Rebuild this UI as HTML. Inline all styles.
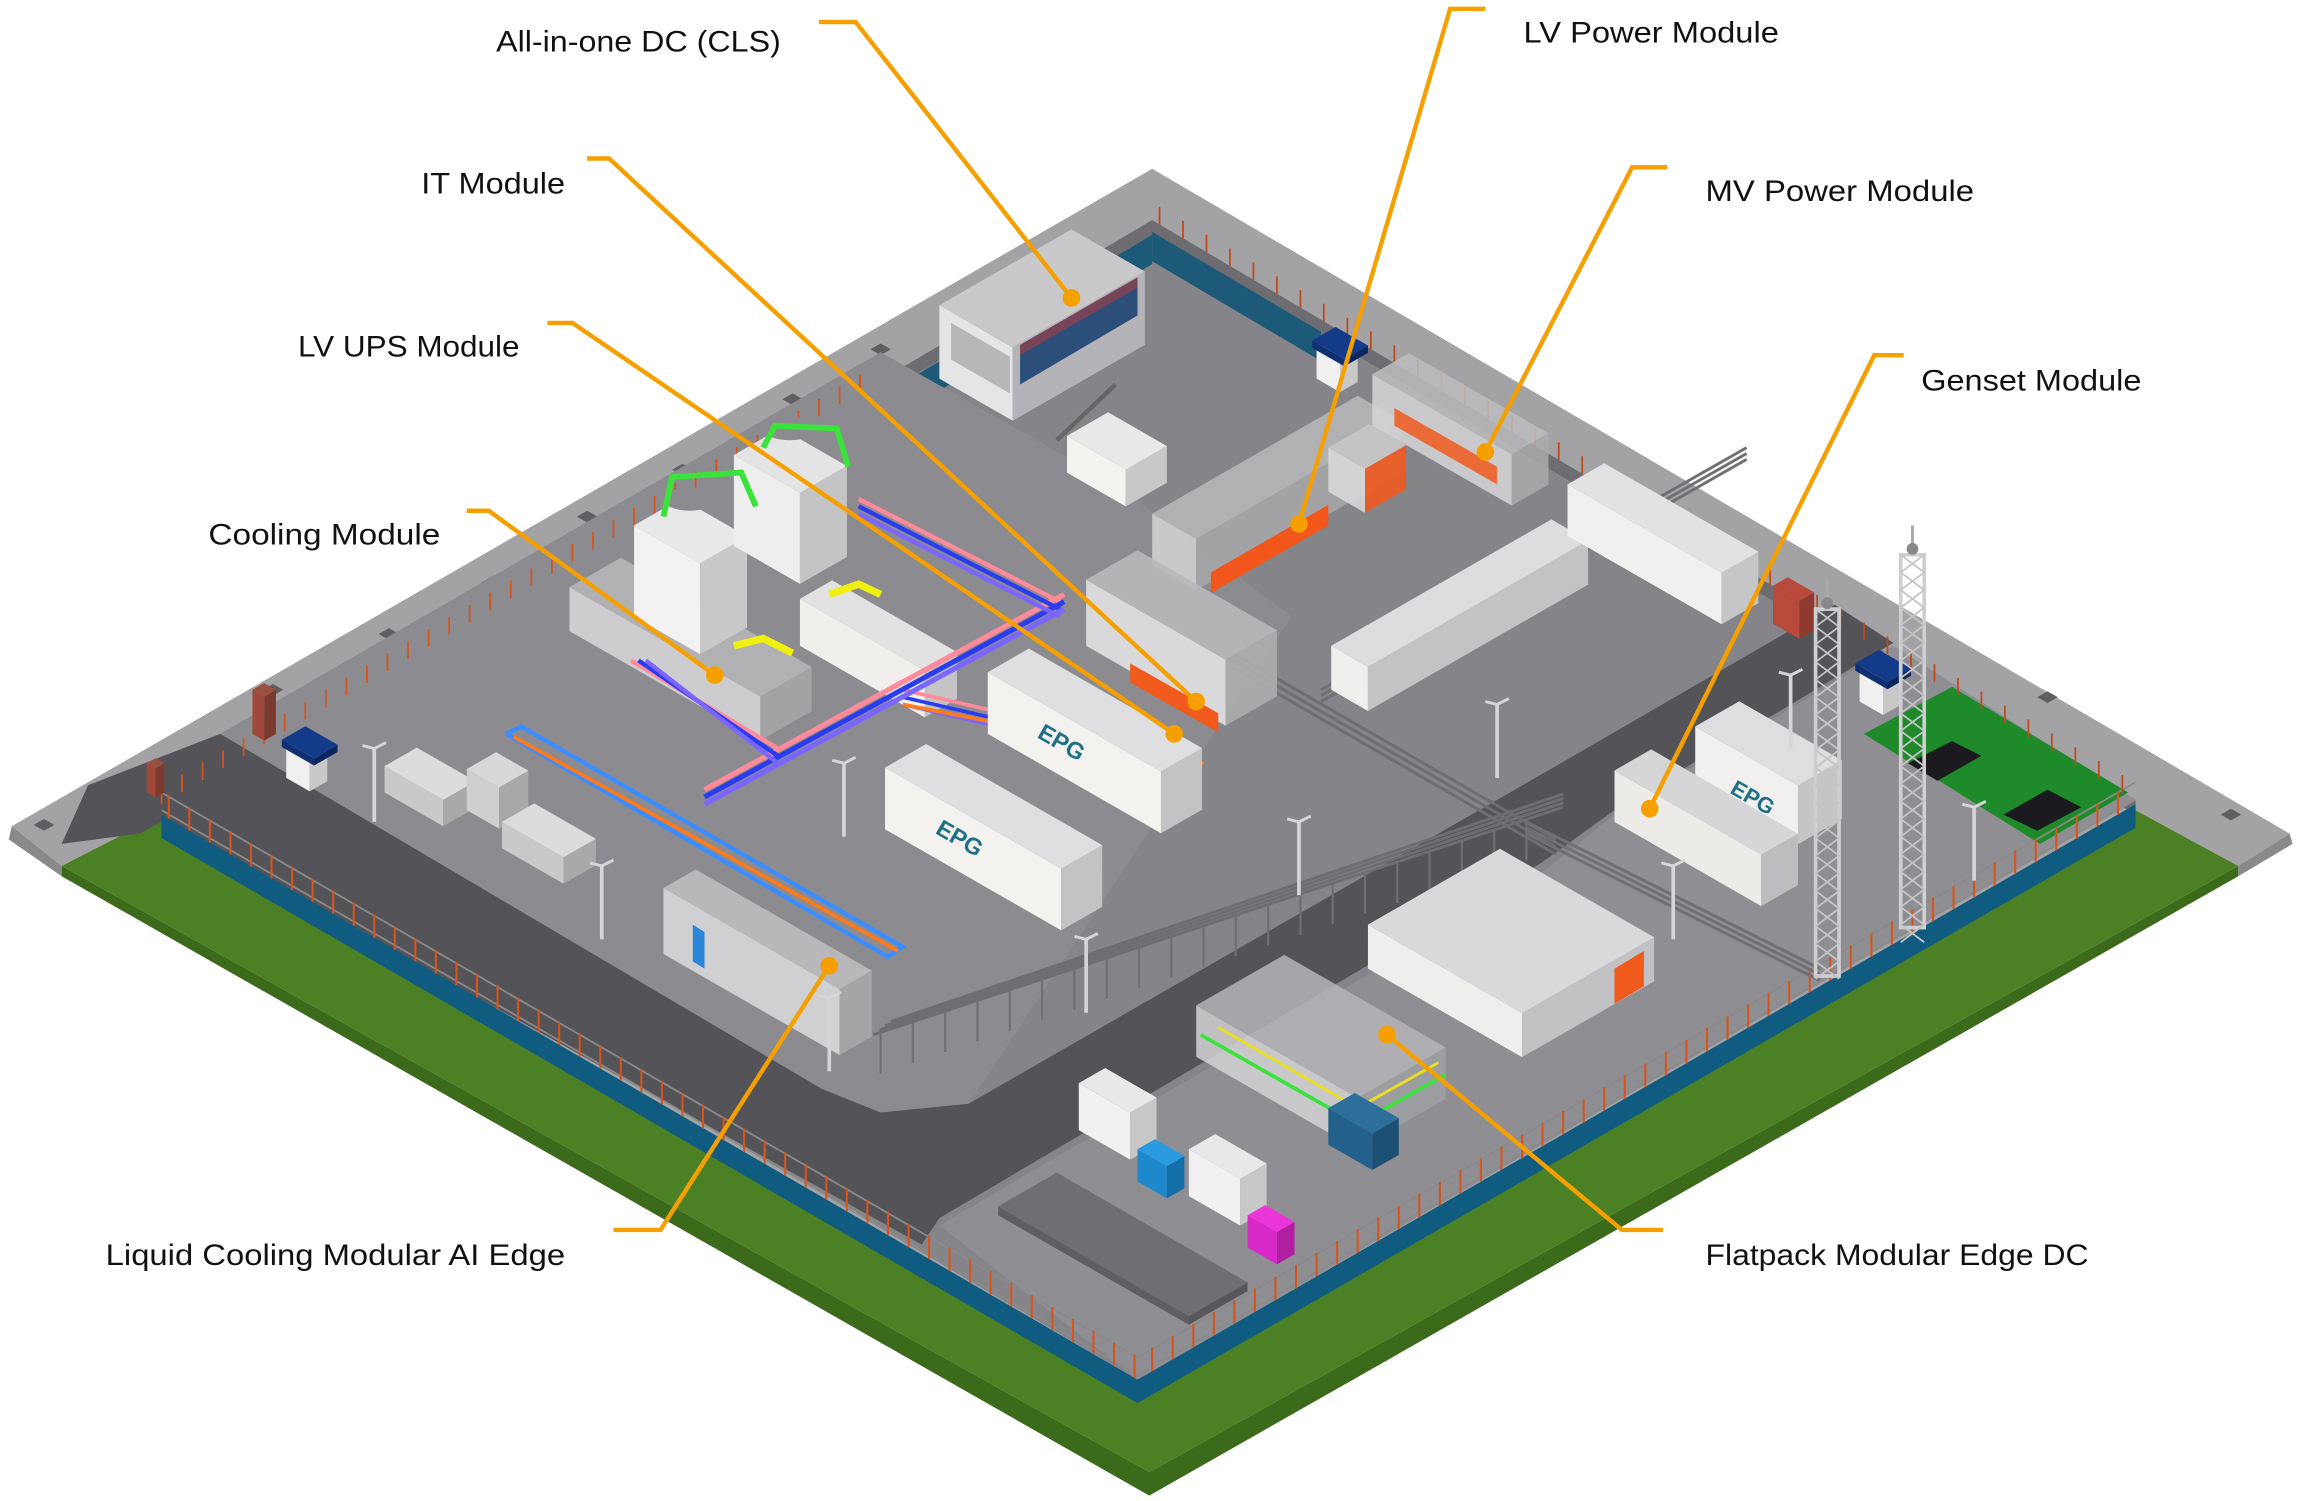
<!DOCTYPE html>
<html><head><meta charset="utf-8">
<style>
html,body{margin:0;padding:0;background:#fff;}
svg{display:block;}
text{font-family:"Liberation Sans",sans-serif;}
</style></head>
<body>
<svg id="s" width="2297" height="1501" viewBox="0 0 1565 1022.7" preserveAspectRatio="none" xmlns="http://www.w3.org/2000/svg">
<rect width="1565" height="1023" fill="#fff"/>
<polygon points="42,590 783,1003 1525,590 1525,597 783,1019 42,597" fill="#3a6a1a"/>
<polygon points="42,590 110,555 775,945 1455,552 1525,590 783,1003" fill="#4c8024"/>
<polygon points="785,115 1560,568 1525,590 1455,552 775,945 110,555 42,590 8,563" fill="#a3a2a5"/>
<polygon points="8,563 42,590 42,597 6,572" fill="#8a898c"/>
<polygon points="1560,568 1525,590 1525,597 1562,575" fill="#8a898c"/>
<polygon points="785,150 1455,545 775,940 110,548" fill="#858488"/>
<g id="dyn"></g>
</svg>
<script>
const S=document.getElementById('dyn');const k=0.574;
function el(t,a,txt){const e=document.createElementNS('http://www.w3.org/2000/svg',t);for(const n in a)e.setAttribute(n,a[n]);if(txt)e.textContent=txt;S.appendChild(e);return e;}
function pts(a){return a.map(p=>p[0].toFixed(1)+','+p[1].toFixed(1)).join(' ');}
function poly(a,f,o){return el('polygon',Object.assign({points:pts(a),fill:f},o||{}));}
function box(x,y,a,b,h,ct,cl,cr,op){
 const P=[x,y],A=[x+a,y+a*k],C=[x+a+b,y+a*k-b*k],B=[x+b,y-b*k];
 const up=p=>[p[0],p[1]-h];const o=op?{'fill-opacity':op}:{};
 poly([P,A,up(A),up(P)],cl,o);poly([A,C,up(C),up(A)],cr,o);poly([up(P),up(A),up(C),up(B)],ct,o);
 return {P,A,B,C};
}
function line(pa,c,w,o){return el('polyline',Object.assign({points:pts(pa),fill:'none',stroke:c,'stroke-width':w},o||{}));}
[[265,432],[335,397],[400,352],[465,320],[540,272],[600,238],[186,470],[1112,345],[1170,380],[1240,420],[1520,555],[30,562],[1395,475]].forEach(p=>poly([[p[0]-7,p[1]],[p[0],p[1]-4],[p[0]+7,p[1]],[p[0],p[1]+4]],'#5f5e62'));
poly([[110,548],[785,150],[785,160],[110,558]],'#6d6c70');
poly([[600,270],[785,160],[785,180],[600,290]],'#1d5a78');
poly([[785,150],[1455,545],[1455,555],[785,160]],'#6d6c70');
poly([[785,158],[900,226],[900,246],[785,178]],'#1d5a78');
// raised left platform
poly([[150,500],[600,240],[760,330],[880,420],[660,752],[600,758],[560,742]],'#8c8b8f');
// road
poly([[60,535],[150,500],[560,742],[600,758],[660,752],[1060,522],[1250,412],[1290,438],[1100,552],[1050,588],[640,830],[628,848],[110,560],[95,568],[42,575]],'#545357');
poly([[640,835],[1050,595],[1100,555],[1290,440],[1455,545],[775,940]],'#8f8e92');
box(680,828,130,40,6,'#6f6e72','#5f5e62','#58575b');
poly([[1270,500],[1330,468],[1450,540],[1390,575]],'#1f8a2a');
poly([[1300,520],[1330,505],[1350,515],[1320,532]],'#1b1b1f');poly([[1365,555],[1395,538],[1418,550],[1388,566]],'#1b1b1f');
poly([[110,555],[775,940],[1455,548],[1455,564],[775,956],[110,571]],'#0f5c80');
line([[110,540],[775,925],[1455,533]],'#8a8a8a',1.2);
line([[110,552],[775,937],[1455,545]],'#8a8a8a',1.2);
for(let x=115;x<775;x+=14){const y=555+(x-110)*0.579;line([[x,y],[x,y-16]],'#d9531a',1.4);}
for(let x=785;x<1455;x+=14){const y=940-(x-775)*0.576;line([[x,y],[x,y-16]],'#d9531a',1.4);}
for(let x=110;x<600;x+=14){const y=548-(x-110)*0.59;line([[x,y],[x,y-12]],'#d9531a',1.2);}
for(let x=790;x<1455;x+=16){const y=150+(x-785)*0.59;line([[x,y],[x,y-12]],'#c04a1c',1.2);}
box(100,540,6,6,20,'#9a5040','#a0483a','#7a3a30');box(172,500,8,8,30,'#9a5040','#a0483a','#7a3a30');
box(262,540,40,22,18,'#dcdcdc','#c9c9c9','#a9a9a9');box(318,552,22,20,28,'#d8d8d8','#cfcfcf','#a8a8a8');box(342,578,42,22,18,'#dcdcdc','#c9c9c9','#a9a9a9');
function hut(x,y){box(x,y,16,12,22,'#eee','#f0f0f0','#c8c8c8');box(x-3,y-21,22,16,5,'#143a8a','#0f2f70','#0c2660');}
hut(195,530);hut(897,258);hut(1267,478);
for(let i=0;i<4;i++){line([[595+i*4,705-i*3],[1065,550-i*3]],'#6e6e72',2);}
for(let i=0;i<3;i++){line([[840,445+i*5],[1060,572+i*5]],'#6e6e72',2);}
for(let i=0;i<3;i++){line([[900,470+i*4],[1190,305+i*4]],'#707074',2);}
for(let i=0;i<3;i++){line([[1040,560+i*4],[1240,660+i*4]],'#707074',2);}
for(let x=600;x<1060;x+=22){const y=705-(x-595)*0.33;line([[x,y],[x,y+28]],'#707074',1.5);}
line([[345,500],[355,495],[615,645],[605,652],[345,500]],'#3a8cff',3);
line([[350,502],[612,648]],'#ff7a1a',2.5);
// cooling
box(388,430,130,35,30,'#b7b7ba','#d8d8da','#a7a7aa',0.85);
box(432,420,45,32,62,'#e9e9e9','#f2f2f2','#c9c9c9');
box(500,372,45,32,62,'#e4e4e4','#eeeeee','#c4c4c4');
el('ellipse',{cx:470,cy:340,rx:18,ry:8,fill:'#8c8c90'});el('ellipse',{cx:538,cy:292,rx:18,ry:8,fill:'#8c8c90'});
line([[452,352],[458,325],[505,322],[515,345]],'#3be23b',4);line([[520,305],[528,290],[570,292],[578,318]],'#3be23b',4);
box(545,440,85,22,32,'#e2e2e2','#f0efec','#c4c4c4');
line([[500,440],[520,435],[540,445]],'#f0f010',5);line([[565,405],[585,398],[600,405]],'#f0f010',5);
[['#ff8a9a',0],['#2a3cf0',5],['#7a66ff',10]].forEach(([c,o])=>{line([[430+o,450],[530,510+o]],c,3);line([[480,538+o],[725,405+o]],c,3.5);line([[585,340+o],[722,410+o]],c,3);line([[615,470+o],[810,515+o]],c,2.5);});
line([[615,480],[820,520]],'#ff7a1a',2.5);
// all-in-one DC
box(640,258,50,90,50,'#c9c9cc','#e5e5e5','#b4b4b8');
poly([[695,235],[775,189],[775,215],[695,262]],'#2c4f7a');
poly([[695,235],[775,189],[775,196],[695,242]],'#aa4040',{'fill-opacity':0.6});
poly([[648,220],[688,243],[688,268],[648,245]],'#8a8a8e',{'fill-opacity':0.5});
line([[720,300],[760,262]],'#666',3);
box(727,322,40,28,25,'#e8e8e8','#f4f3f0','#c8c8c8');
// central long container
box(907,470,25,150,30,'#dddddf','#f0efed','#c3c3c6');
// LV power
box(785,385,30,140,35,'#b8b8bb','#d3d3d5','#a8a8ab',0.85);
poly([[825,390],[905,344],[905,358],[825,404]],'#f2561a');
box(905,335,25,28,30,'#c6c6c8','#d8d8da','#ef5a20',0.9);
// MV power
box(935,290,95,25,35,'#bdbdc0','#d6d6d8','#aaaaad',0.85);
poly([[950,290],[1020,330],[1020,318],[950,278]],'#f05a1c',{'fill-opacity':0.85});
box(1068,365,105,25,35,'#e2e2e4','#f1f0ee','#c6c6c8');
box(1208,425,18,10,26,'#b84a3c','#b84a3c','#8e3a30');
// IT
box(740,440,95,35,45,'#b8b8bb','#e1e1e3','#adadb0',0.9);
poly([[770,465],[830,499],[830,486],[770,452]],'#f05a1c');
function epg(x,y,a,b,h){box(x,y,a,b,h,'#dfdfe1','#f3f2ef','#c3c3c6');
 const cx=x+a*0.28,cy=y+a*0.28*k-h*0.4;el('text',{x:cx,y:cy,'font-size':h*0.38,'font-weight':'bold',fill:'#1f6f86',transform:`rotate(29.9 ${cx} ${cy})`},'EPG');}
epg(673,500,118,28,42);epg(603,565,120,28,42);
// liquid cooling
box(452,650,120,22,45,'#bfbfc2','#dcdcde','#a9a9ac',0.85);
poly([[472,630],[480,635],[480,660],[472,655]],'#2b86d8');
// genset
box(1155,535,70,30,40,'#dedee0','#f1f0ee','#c5c5c8');
el('text',{x:1178,y:540,'font-size':15,'font-weight':'bold',fill:'#1f6f86',transform:'rotate(29.9 1178 540)'},'EPG');
box(1100,560,100,25,35,'#d6d6d8','#ecebe8','#bdbdc0');
function tower(x,y1,y2){el('rect',{x:x-8,y:y1,width:16,height:y2-y1,fill:'none',stroke:'#cfcfd2','stroke-width':2.5});for(let y=y1;y<y2;y+=12){line([[x-8,y],[x+8,y+12]],'#c5c5c8',1.2);line([[x+8,y],[x-8,y+12]],'#c5c5c8',1.2);}line([[x,y1],[x,y1-20]],'#aaa',2);el('circle',{cx:x,cy:y1-4,r:4,fill:'#888'});}
tower(1245,415,665);tower(1303,378,632);
// flatpack
box(932,660,105,90,30,'#d9d9db','#efeeec','#c2c2c5');
poly([[1100,684],[1120,672],[1120,648],[1100,660]],'#f05a1c');
box(815,720,110,60,35,'#b5b5b8','#d4d4d6','#9fa0a3',0.85);
line([[818,705],[925,766],[985,732]],'#3be23b',2.5);line([[830,700],[925,755],[980,724]],'#e8e020',2);
box(905,780,30,18,25,'#2d6e9a','#23608a','#1b4f73');
box(735,770,35,18,32,'#e8e8e8','#f1f1f1','#c8c8c8');
box(775,805,20,12,22,'#2a9be0','#1e88cc','#146ea8');
box(810,815,35,18,32,'#e8e8e8','#f1f1f1','#c8c8c8');
box(850,850,20,12,22,'#ea35d8','#d82ac8','#b01ea2');
[[255,560],[410,640],[575,570],[740,690],[885,610],[1020,530],[565,730],[1140,640],[1345,600],[1220,510]].forEach(p=>{line([[p[0],p[1]],[p[0],p[1]-50]],'#d6d6d8',2.5);line([[p[0]-8,p[1]-52],[p[0],p[1]-50],[p[0]+8,p[1]-54]],'#d6d6d8',2);});
const O='#f5a000';
const L=[
 ['All-in-one DC (CLS)',338,35,194,[[558,15],[583,15],[730,203]]],
 ['IT Module',287,132,98,[[400,108],[415,108],[815,478]]],
 ['LV UPS Module',203,243,151,[[373,220],[390,220],[800,500]]],
 ['Cooling Module',142,371,158,[[318,348],[333,348],[487,460]]],
 ['Liquid Cooling Modular AI Edge',72,862,313,[[418,838],[450,838],[565,658]]],
 ['LV Power Module',1038,29,174,[[1012,6],[988,6],[885,357]]],
 ['MV Power Module',1162,137,183,[[1136,114],[1112,114],[1012,308]]],
 ['Genset Module',1309,266,150,[[1297,242],[1277,242],[1124,551]]],
 ['Flatpack Modular Edge DC',1162,862,261,[[1133,838],[1105,838],[945,705]]]];
L.forEach(([t,x,y,w,p])=>{line(p,O,3);const e=p[p.length-1];el('circle',{cx:e[0],cy:e[1],r:6,fill:O});
 el('text',{x:x,y:y,'font-size':20,fill:'#111',textLength:w,lengthAdjust:'spacingAndGlyphs'},t);});
</script>
</body></html>
